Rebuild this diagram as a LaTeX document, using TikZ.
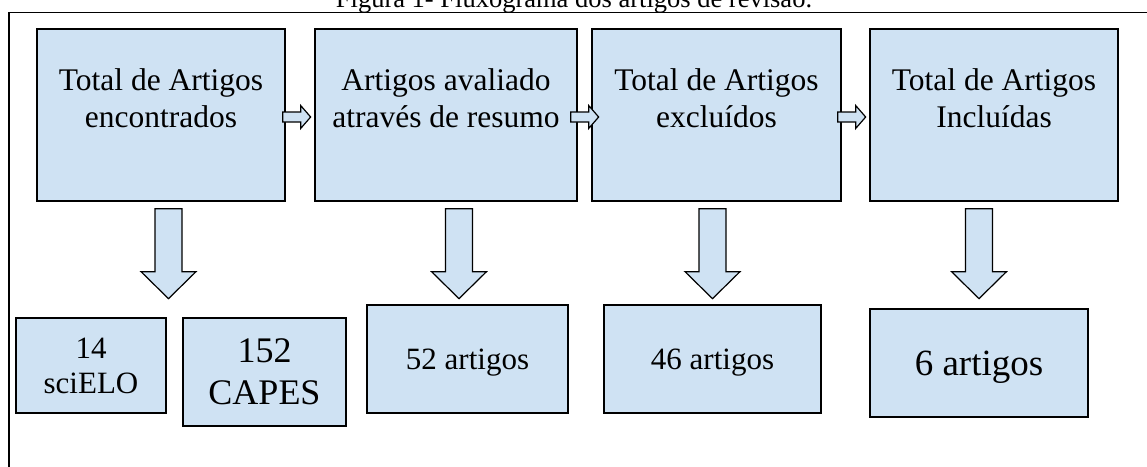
\documentclass[tikz,border=0pt]{standalone}
\usepackage{fontspec}
\setmainfont{Liberation Serif}
\usetikzlibrary{positioning,calc}

\definecolor{boxblue}{HTML}{CFE2F3}

\begin{document}
\begin{tikzpicture}[
            x=1pt, y=-1pt,
            box/.style={rectangle, draw, line width=1.3pt, fill=boxblue, inner sep=0pt},
            topbox/.style={box, minimum height=172pt},
            toptext/.style={align=center, font=\fontsize{31.5}{37}\selectfont},
            countbox/.style={box, minimum height=108pt, align=center, text depth=0pt},
            blockarrow/.style={draw, line width=1.2pt, fill=boxblue, line join=miter},
            pics/rightblock/.style={code={\draw[blockarrow] (0,-5) -- (18,-5) -- (18,-11.5) -- (28,0) -- (18,11.5) -- (18,5) -- (0,5) -- cycle;}},
            pics/downblock/.style={code={\draw[blockarrow] (-13.5,0) -- (13.5,0) -- (13.5,63) -- (27.5,63) -- (0,90) -- (-27.5,63) -- (-13.5,63) -- cycle;}}
        ]
        \useasboundingbox (0,0) rectangle (1147,466);
        \clip (0,0) rectangle (1147,466);
        % Caption and frame
        \node[anchor=base, inner sep=0pt, font=\fontsize{26.5}{30}\selectfont] (caption) at (574,7.5) {Figura 1- Fluxograma dos artigos de revis\~ao.};
        \draw[line width=1.2pt] (9,480) |- (1160,12.7);
        % Top row
        \node[topbox, minimum width=248pt] (found) at (161,115) {};
        \node[topbox, minimum width=262pt] (review) at (446,115) {};
        \node[topbox, minimum width=249pt] (excluded) at (716.5,115) {};
        \node[topbox, minimum width=248pt] (included) at (994,115) {};
        \node[toptext] (found-txt) at ($(found)+(0,-17)$) {Total de Artigos\\encontrados};
        \node[toptext] (review-txt) at ($(review)+(0,-17)$) {Artigos avaliado\\atrav\'es de resumo};
        \node[toptext] (excluded-txt) at ($(excluded)+(0,-17)$) {Total de Artigos\\exclu\'idos};
        \node[toptext] (included-txt) at ($(included)+(0,-17)$) {Total de Artigos\\Inclu\'idas};
        % Bottom row
        \node[countbox, minimum width=150pt, minimum height=95pt, font=\fontsize{31}{35}\selectfont] (scielo) at (91,365.5) {14\\sciELO};
        \node[countbox, minimum width=163pt, font=\fontsize{36}{42}\selectfont] (capes) at (264.5,372) {152\\CAPES};
        \node[countbox, minimum width=201pt, font=\fontsize{31}{35}\selectfont] (reviewed-n) at (467.5,359) {52 artigos};
        \node[countbox, minimum width=217pt, font=\fontsize{31}{35}\selectfont] (excluded-n) at (712.5,359) {46 artigos};
        \node[countbox, minimum width=218pt, font=\fontsize{37}{42}\selectfont] (included-n) at (979,363) {6 artigos};
        % Arrows between the steps
        \pic at ($(found.east)+(-3,2)$) {rightblock};
        \pic at ($(review.east)+(-7,2)$) {rightblock};
        \pic at ($(excluded.east)+(-4,2)$) {rightblock};
        % Arrows down to the counts
        \pic at ($(found.south)+(7.5,7)$) {downblock};
        \pic at ($(review.south)+(13,7)$) {downblock};
        \pic at ($(excluded.south)+(-4,7)$) {downblock};
        \pic at ($(included.south)+(-15,7)$) {downblock};
    \end{tikzpicture}
\end{document}
